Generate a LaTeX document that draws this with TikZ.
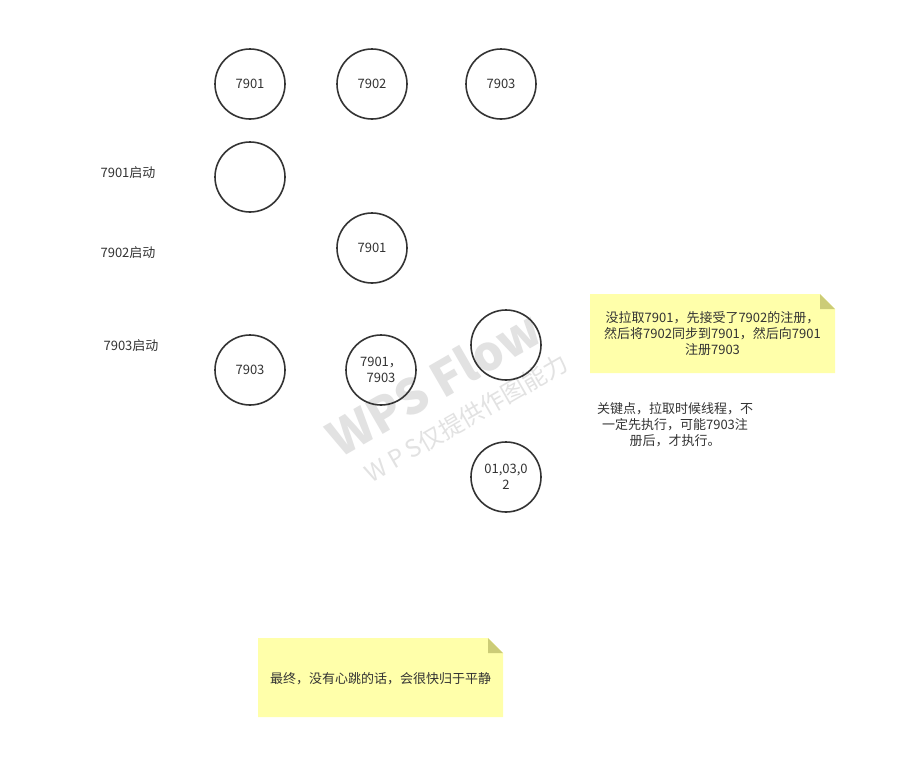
\documentclass[tikz,border=0pt]{standalone}
\usepackage{fontspec}
\setmainfont{Noto Sans CJK SC}
\definecolor{notefill}{HTML}{FFFFAA}
\definecolor{notefold}{HTML}{CCCC77}
\definecolor{inkline}{HTML}{333333}
\definecolor{marktext}{HTML}{E2E2E2}
\tikzset{
  port/.style={circle, draw=inkline, line width=1.6pt, minimum size=70pt, inner sep=0pt,
    font=\fontsize{13}{16}\selectfont, text=inkline, align=center},
  steplabel/.style={font=\fontsize{13}{16}\selectfont, text=inkline},
  notetext/.style={font=\fontsize{13}{16}\selectfont, text=inkline, align=center}
}
\begin{document}
\begin{tikzpicture}[x=1pt, y=-1pt]
  \useasboundingbox[fill=white] (0,0) rectangle (898,780);

  % watermark
  \node[rotate=30, font=\fontsize{48}{52}\selectfont\bfseries, text=marktext] (wmark) at (434,383) {WPS Flow};
  \node[rotate=30, font=\fontsize{24}{28}\selectfont, text=marktext] (wsub) at (466,418) {W P S仅提供作图能力};

  % header row
  \node[port] (p1) at (250,84) {7901};
  \node[port] (p2) at (372,84) {7902};
  \node[port] (p3) at (501,84) {7903};
  % (circles drawn at row centres, text nudged by 1px)

  % 7901 start
  \node[steplabel] (s1) at (128,173) {7901启动};
  \node[port] (a1) at (250,177) {};

  % 7902 start
  \node[steplabel] (s2) at (128,253) {7902启动};
  \node[port] (b2) at (372,248) {7901};

  % 7903 start
  \node[steplabel] (s3) at (131,346) {7903启动};
  \node[port] (c1) at (250,370) {7903};
  \node[port] (c2) at (381,370) {7901，\\7903};
  \node[port] (c3) at (506,345) {};
  \node[port] (d3) at (506,477) {01,03,0\\2};

  % note right
  \fill[notefill] (590,294) -- (820,294) -- (835,309) -- (835,373) -- (590,373) -- cycle;
  \fill[notefold] (820,294) -- (835,309) -- (820,309) -- cycle;
  \node[notetext] (n1) at (712.5,334) {没拉取7901，先接受了7902的注册，\\然后将7902同步到7901，然后向7901\\注册7903};

  \node[notetext] (n2) at (675,425) {关键点，拉取时候线程，不\\一定先执行，可能7903注\\册后，才执行。};

  % note bottom
  \fill[notefill] (258,638) -- (488,638) -- (503,653) -- (503,717) -- (258,717) -- cycle;
  \fill[notefold] (488,638) -- (503,653) -- (488,653) -- cycle;
  \node[notetext] (n3) at (380.5,679) {最终，没有心跳的话，会很快归于平静};
\end{tikzpicture}
\end{document}
